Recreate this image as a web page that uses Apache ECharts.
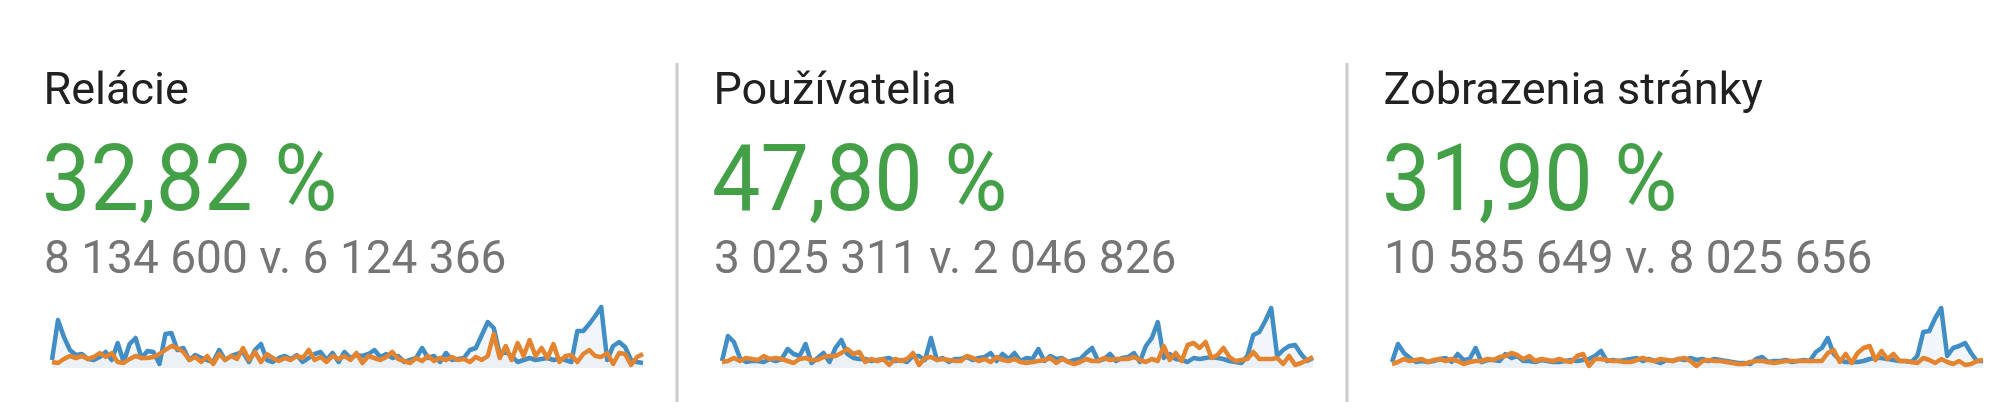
<!DOCTYPE html>
<html><head><meta charset="utf-8">
<script src="https://cdn.jsdelivr.net/npm/echarts@6/dist/echarts.min.js"></script>
<style>html,body{margin:0;padding:0;background:#fff}#c{width:2010px;height:408px}</style>
</head><body><div id="c"></div>
<script>
const metricTitles = ['Relácie', 'Používatelia', 'Zobrazenia stránky'];
const changeLabels = ['32,82 %', '47,80 %', '31,90 %'];
const totalsLabels = ['8 134 600 v. 6 124 366', '3 025 311 v. 2 046 826', '10 585 649 v. 8 025 656'];

// sparkline values (relative units)
const sessionsCurrent = [8,48,31,18,13,14,9,8,11,16,8,25,6,24,30,10,17,16,4,34,35,18,20,8,13,
  10,8,6,18,8,12,14,16,6,18,24,8,6,10,12,9,13,6,10,14,16,8,15,6,16,
  10,13,12,14,18,11,14,10,12,6,8,10,20,10,12,6,15,8,9,10,18,20,33,46,40,
  14,16,12,6,8,10,8,9,10,8,9,8,6,37,37,44,52,61,8,22,26,21,8,6,5];
const sessionsPrevious = [6,5,9,12,10,12,9,11,15,11,15,6,5,9,12,10,10,11,14,18,22,20,16,8,11,
  6,12,4,14,8,12,9,20,8,16,6,14,10,7,10,8,12,10,18,8,11,6,12,9,12,
  8,15,5,12,10,8,11,16,9,7,5,10,7,12,7,10,8,11,8,9,6,11,8,12,34,
  10,22,8,25,12,28,12,20,10,24,6,12,13,6,14,18,12,11,15,4,15,14,3,11,14];
const usersCurrent = [7,32,26,10,6,7,7,6,9,7,9,19,14,12,24,5,10,15,6,20,28,14,10,9,9,
  7,8,9,10,7,8,6,12,12,8,30,8,10,6,9,9,11,8,10,11,15,7,14,9,15,
  7,10,9,19,7,12,9,10,6,8,9,15,20,7,9,14,7,10,11,15,6,22,30,46,10,
  14,9,8,6,10,9,10,11,10,9,7,6,5,12,33,36,47,60,12,18,22,23,14,7,10];
const usersPrevious = [6,7,10,7,10,9,8,12,9,10,9,7,5,9,10,8,8,11,12,12,15,19,14,16,6,
  9,7,9,3,9,7,9,15,3,10,11,8,9,8,7,7,12,10,7,9,6,11,8,7,9,
  6,5,6,7,8,10,5,9,6,4,6,9,7,7,10,8,9,9,9,11,8,6,9,7,22,
  8,15,7,23,25,20,26,10,13,20,11,7,8,9,16,9,9,9,10,4,12,3,5,8,11];
const pageviewsCurrent = [6,24,15,10,6,7,6,7,9,10,6,14,8,9,20,6,8,8,7,14,10,12,7,7,6,
  8,7,6,6,7,8,7,8,9,12,17,7,8,7,8,9,10,7,9,7,5,8,7,9,8,
  10,8,9,7,9,8,7,6,5,5,4,9,11,6,7,7,8,6,7,8,7,16,20,30,14,
  8,6,6,6,7,9,10,10,9,8,7,7,6,12,36,37,50,60,12,20,22,25,15,7,7];
const pageviewsPrevious = [4,6,9,7,8,9,6,8,9,7,9,7,4,6,7,7,9,8,11,12,15,13,9,12,7,
  9,8,7,9,7,6,12,14,2,9,9,8,7,7,6,6,8,10,8,7,9,8,7,9,10,
  7,2,7,8,7,7,6,5,4,4,6,7,7,6,5,6,7,7,7,7,7,7,7,15,18,
  6,14,5,15,20,22,8,17,9,14,7,7,6,5,10,8,5,9,6,4,7,3,4,7,8];

const currentSeries = [sessionsCurrent, usersCurrent, pageviewsCurrent];
const previousSeries = [sessionsPrevious, usersPrevious, pageviewsPrevious];
const days = sessionsCurrent.map((_, i) => String(i + 1));

const PANEL_W = 670;
const BLUE = '#418dc6';
const ORANGE = '#e5842f';
const FONT = 'Roboto, "Noto Sans", sans-serif';

const chart = echarts.init(document.getElementById('c'), null, {renderer: 'canvas'});

function txt(x, y, text, size, color, sx) {
  return {
    type: 'text', x: x, y: y, scaleX: sx || 1,
    style: {text: text, font: size + 'px ' + FONT, fill: color,
      x: 0, y: 0, align: 'left', verticalAlign: 'top', textAlign: 'left', textVerticalAlign: 'top'}
  };
}

const grids = [], xAxes = [], yAxes = [], series = [], graphics = [];
for (let k = 0; k < 3; k++) {
  const off = PANEL_W * k;
  grids.push({left: 52 + off, top: 306, width: 591, height: 62});
  xAxes.push({type: 'category', gridIndex: k, data: days, boundaryGap: false, show: false});
  yAxes.push({type: 'value', gridIndex: k, min: 0, max: 62, show: false});
  series.push({
    type: 'line', xAxisIndex: k, yAxisIndex: k, data: currentSeries[k],
    showSymbol: false, symbol: 'none', clip: false, z: 2,
    lineStyle: {color: BLUE, width: 4.5, join: 'round'},
    areaStyle: {color: 'rgba(66,139,202,0.11)'}, animation: false
  });
  series.push({
    type: 'line', xAxisIndex: k, yAxisIndex: k, data: previousSeries[k],
    showSymbol: false, symbol: 'none', clip: false, z: 3,
    lineStyle: {color: ORANGE, width: 4.5, join: 'round'},
    areaStyle: {color: 'rgba(150,140,130,0.08)'}, animation: false
  });
  graphics.push(txt(43.5 + off, 70, metricTitles[k], 45, '#212121'));
  graphics.push(txt(42 + off, 141, changeLabels[k], 92, '#43a047', 0.937));
  graphics.push(txt(44 + off, 238, totalsLabels[k], 46, '#757575'));
  if (k > 0) {
    graphics.push({type: 'line', shape: {x1: off + 7, y1: 63, x2: off + 7, y2: 402}, style: {stroke: '#cccccc', lineWidth: 3}});
  }
}

chart.setOption({
  animation: false,
  grid: grids, xAxis: xAxes, yAxis: yAxes, series: series, graphic: graphics
});
</script>
</body></html>
